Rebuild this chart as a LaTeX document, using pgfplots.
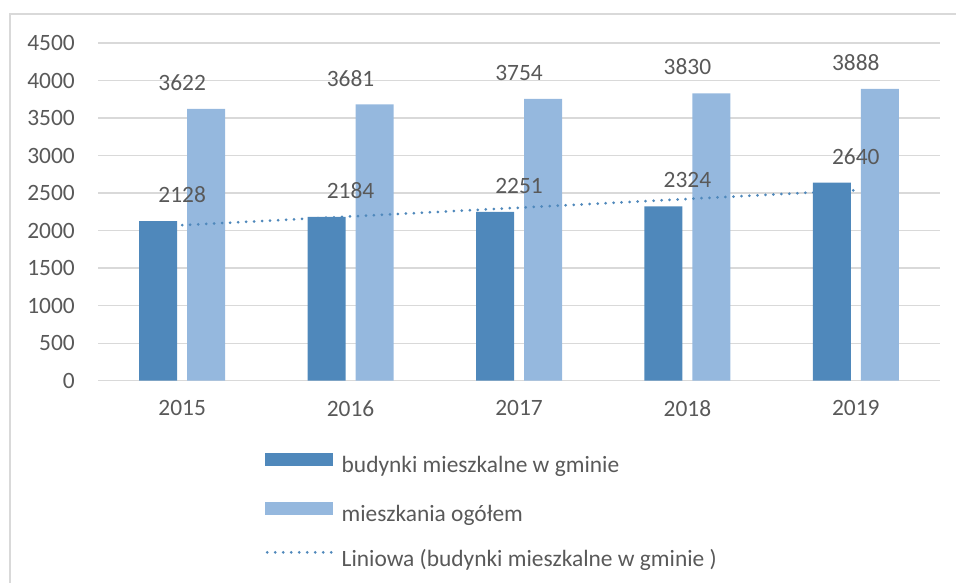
\documentclass[border=0pt]{standalone}
\usepackage{pgfplots}
\pgfplotsset{compat=1.18}
\usepackage{fontspec}
\setmainfont{Carlito}
\definecolor{dark}{HTML}{4F88BB}
\definecolor{light}{HTML}{95B8DE}
\definecolor{gridc}{HTML}{D9D9D9}
\definecolor{txt}{HTML}{595959}
\newcommand{\cf}{\fontsize{23.5}{27}\selectfont}
\begin{document}
\begin{tikzpicture}
\useasboundingbox (0,0) rectangle (956bp,583bp);
\draw[gridc, line width=1.5bp] (10bp,0) -- (10bp,569bp) -- (956bp,569bp);
\begin{axis}[
  at={(98bp,202.3bp)}, anchor=south west,
  scale only axis, width=842bp, height=337.7bp,
  xmin=-0.5, xmax=4.5, ymin=0, ymax=4500,
  xtick={0,1,2,3,4}, xticklabels={2015,2016,2017,2018,2019},
  ytick={0,500,1000,1500,2000,2500,3000,3500,4000,4500},
  ymajorgrids, grid style={gridc, line width=1.3bp},
  axis line style={draw=none},
  major tick length=0pt,
  /pgf/number format/assume math mode=true,
  /pgf/number format/1000 sep={},
  scaled y ticks=false,
  tick label style={font=\cf, text=txt, inner sep=0pt},
  yticklabel style={xshift=-23bp},
  xticklabel style={yshift=-19.5bp},
  clip=false,
  legend style={at={(axis description cs:0.1983,-0.2147)}, anchor=north west,
    draw=none, fill=none, inner sep=0pt, font=\cf, text=txt,
    nodes={inner sep=0pt, text height=16bp, text depth=5bp},
    row sep=24bp, column sep=7bp, cells={anchor=west}},
]
\addplot[ybar, bar width=38bp, bar shift=-24bp, fill=dark, draw=none,
  nodes near coords, every node near coord/.append style={font=\cf, text=txt, anchor=south, inner sep=0pt, yshift=18bp},
  legend image code/.code={\fill[dark] (0bp,1bp) rectangle (68bp,14bp);}]
  coordinates {(0,2128) (1,2184) (2,2251) (3,2324) (4,2640)};
\addlegendentry{budynki mieszkalne w gminie}
\addplot[ybar, bar width=38bp, bar shift=24bp, fill=light, draw=none,
  nodes near coords, every node near coord/.append style={font=\cf, text=txt, anchor=south, inner sep=0pt, yshift=18bp},
  legend image code/.code={\fill[light] (0bp,1bp) rectangle (68bp,14bp);}]
  coordinates {(0,3622) (1,3681) (2,3754) (3,3830) (4,3888)};
\addlegendentry{mieszkania ogółem}
\addplot[sharp plot, dark, line width=3bp, line cap=round, dash pattern=on 0bp off 8bp, mark=none,
  legend image code/.code={\draw[dark, line width=3bp, line cap=round, dash pattern=on 0bp off 8bp] (2bp,8.5bp) -- (68bp,8.5bp);}]
  coordinates {(0,2072.6) (4,2538.2)};
\addlegendentry{Liniowa (budynki mieszkalne w gminie )}
\end{axis}
\end{tikzpicture}
\end{document}
